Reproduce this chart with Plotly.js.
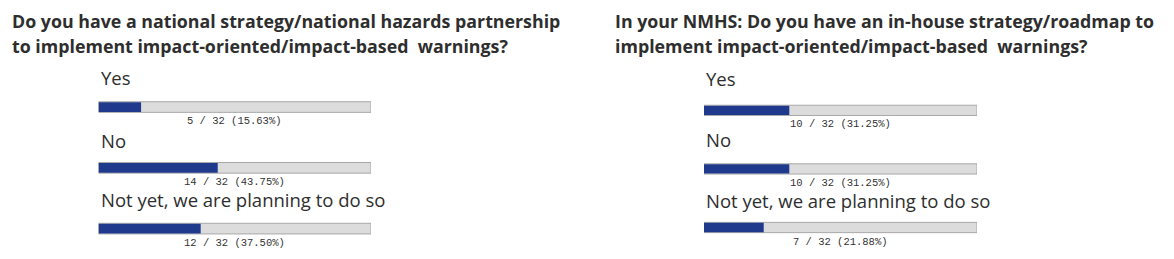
<!DOCTYPE html>
<html>
<head>
<meta charset="utf-8">
<script src="https://cdn.plot.ly/plotly-3.0.1.min.js"></script>
<style>html,body{margin:0;padding:0;background:#fff;}#chart{width:1174px;height:259px;}</style>
</head>
<body>
<div id="chart"></div>
<script>
// ---- data ----
const total = 32;
const categories = ["Yes", "No", "Not yet, we are planning to do so"];
const leftCounts = [5, 14, 12];
const rightCounts = [10, 10, 7];
const leftTitleLines = [
  "Do you have a national strategy/national hazards partnership",
  "to implement impact-oriented/impact-based  warnings?"
];
const rightTitleLines = [
  "In your NMHS: Do you have an in-house strategy/roadmap to",
  "implement impact-oriented/impact-based  warnings?"
];

// ---- styles ----
const BLUE = "#1f3a8c";
const GRAY = "#dcdcdc";
const BORDER = "#a8a8a8";
const TEXT = "#2e2e2e";
const W = 1174, H = 259;

function panel(counts, xa, ya) {
  return [
    {
      type: "bar", orientation: "h", y: categories, x: categories.map(() => total),
      xaxis: xa, yaxis: ya, width: 0.175,
      marker: { color: GRAY, line: { color: BORDER, width: 1 } },
      hoverinfo: "skip"
    },
    {
      type: "bar", orientation: "h", y: categories, x: counts,
      xaxis: xa, yaxis: ya, width: 0.16,
      marker: { color: BLUE, line: { width: 0 } },
      hoverinfo: "skip"
    }
  ];
}

const data = [].concat(panel(leftCounts, "x", "y"), panel(rightCounts, "x2", "y2"));

function fmt(c) {
  return c + " / " + total + " (" + (c * 100 / total).toFixed(2) + "%)";
}

const annotations = [];
function panelAnn(counts, xr, yr, shifts) {
  categories.forEach((cat, i) => {
    annotations.push({
      xref: xr, yref: yr, x: 0, y: cat, xanchor: "left", yanchor: "middle",
      yshift: shifts[i], showarrow: false, text: cat,
      font: { family: "Open Sans, sans-serif", size: 18.5, color: TEXT }
    });
    annotations.push({
      xref: xr, yref: yr, x: total / 2, y: cat, xanchor: "center", yanchor: "middle",
      yshift: -14, showarrow: false, text: fmt(counts[i]),
      font: { family: "Liberation Mono, Courier New, monospace", size: 10.5, color: "#333333" }
    });
  });
}
panelAnn(leftCounts, "x", "y", [30, 27, 29]);
panelAnn(rightCounts, "x2", "y2", [32, 29, 27]);

function titleAnn(lines, xpx) {
  lines.forEach((ln, i) => {
    annotations.push({
      xref: "paper", yref: "paper", x: xpx / W, y: 1 - (21.5 + 25 * i) / H,
      xanchor: "left", yanchor: "middle", showarrow: false, text: "<b>" + ln + "</b>",
      font: { family: "Open Sans, sans-serif", size: 17.8, color: TEXT }
    });
  });
}
titleAnn(leftTitleLines, 10);
titleAnn(rightTitleLines, 613);

const axX = (dom) => ({
  domain: dom, range: [0, total], showgrid: false, zeroline: false,
  showticklabels: false, showline: false, ticks: "", fixedrange: true
});
const axY = (dom) => ({
  domain: dom, type: "category", range: [2.5, -0.5], showgrid: false, zeroline: false,
  showticklabels: false, showline: false, ticks: "", fixedrange: true
});

const layout = {
  width: W, height: H,
  margin: { l: 0, r: 0, t: 0, b: 0 },
  paper_bgcolor: "#ffffff", plot_bgcolor: "#ffffff",
  showlegend: false, barmode: "overlay",
  xaxis: axX([98.5 / W, 371 / W]),
  yaxis: Object.assign(axY([0, 0.704]), { anchor: "x" }),
  xaxis2: Object.assign(axX([704 / W, 977 / W]), { anchor: "y2" }),
  yaxis2: Object.assign(axY([0.0085, 0.687]), { anchor: "x2" }),
  annotations: annotations
};

Plotly.newPlot("chart", data, layout, { staticPlot: true, displayModeBar: false });
</script>
</body>
</html>
